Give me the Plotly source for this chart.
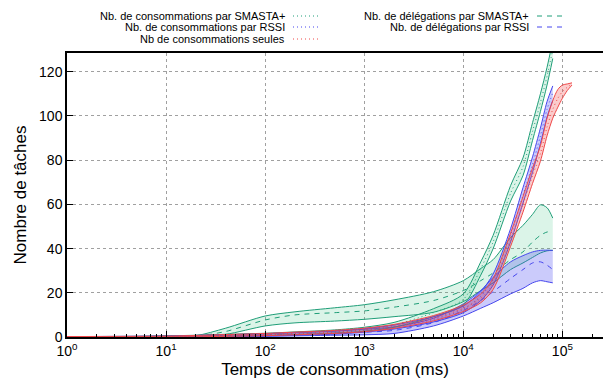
import plotly.graph_objects as go

# ---------------- data ----------------
time_ms = [1, 5, 10, 20, 40, 100, 200, 500, 1000, 2000, 5000, 10000,
           15000, 20000, 30000, 40000, 50000, 60000, 70000, 80000]
time_ms_red = time_ms + [90000, 100000, 112000, 125000]

# Nb. de consommations par SMASTA+
cons_smasta_mean = [0, 0.1, 0.3, 0.5, 0.8, 1.2, 1.7, 2.5, 3.5, 5.5, 11, 17, 31, 43, 65, 77, 93, 106, 118, 130]
cons_smasta_lo   = [0, 0.0, 0.1, 0.2, 0.4, 0.7, 1.1, 1.8, 2.6, 4.4, 9.2, 14.5, 28, 40, 61.5, 73, 89, 102, 114, 126]
cons_smasta_hi   = [0.2, 0.3, 0.5, 0.8, 1.2, 1.7, 2.3, 3.2, 4.4, 6.6, 12.8, 19.5, 34, 46, 68.5, 81, 97, 110, 122, 134]

# Nb. de consommations par RSSI
cons_rssi_mean = [0, 0.1, 0.2, 0.4, 0.6, 1.0, 1.4, 2.0, 3.0, 4.5, 8, 12.5, 18.5, 26, 46, 64, 78, 91, 103, 110.5]
cons_rssi_lo   = [0, 0.0, 0.0, 0.1, 0.2, 0.5, 0.8, 1.3, 2.2, 3.6, 6.8, 11, 16.5, 23.5, 43, 60.5, 74.5, 87.5, 99.5, 107]
cons_rssi_hi   = [0.2, 0.3, 0.4, 0.7, 1.0, 1.5, 2.0, 2.7, 3.8, 5.4, 9.2, 14, 20.5, 28.5, 49, 67.5, 81.5, 94.5, 106.5, 113.6]

# Nb de consommations seules
cons_seules_mean = [0, 0.1, 0.2, 0.4, 0.7, 1.1, 1.6, 2.3, 3.2, 4.8, 8.5, 13, 17.5, 24, 44, 60, 73, 83, 95, 103, 108, 111, 113, 114.5]
cons_seules_lo   = [0, 0.0, 0.0, 0.1, 0.3, 0.6, 1.0, 1.6, 2.4, 3.9, 7.3, 11.5, 15.5, 21.5, 41, 56.5, 69.5, 79.5, 91, 99, 104, 108, 111.5, 114]
cons_seules_hi   = [0.2, 0.3, 0.4, 0.7, 1.1, 1.6, 2.2, 3.0, 4.0, 5.7, 9.7, 14.5, 19.5, 26.5, 47, 63.5, 76.5, 86.5, 99, 107, 112, 114, 114.5, 115]

# Nb. de délégations par SMASTA+
deleg_smasta_mean = [0, 0.05, 0.1, 0.4, 2.5, 7.7, 10, 11, 11.8, 13.5, 16.5, 21, 25.5, 29, 35, 38.5, 43, 46, 47.5, 47.7]
deleg_smasta_lo   = [0, 0.0, 0.0, 0.2, 1.2, 5.0, 6.4, 7.2, 8.0, 9.2, 11.2, 16, 21, 24.5, 30.5, 33.5, 36, 38, 39, 39.2]
deleg_smasta_hi   = [0, 0.1, 0.2, 0.6, 4.0, 9.5, 11.4, 13.2, 14.6, 16.8, 20.5, 25.5, 31, 35, 45, 50.5, 55.5, 59.8, 58.5, 53.8]

# Nb. de délégations par RSSI
deleg_rssi_mean = [0, 0.1, 0.2, 0.4, 0.6, 0.9, 1.2, 1.7, 2.2, 3.0, 6.5, 12, 16.5, 20.5, 26.5, 30.5, 33.5, 34, 32.5, 30.5]
deleg_rssi_lo   = [0, 0.0, 0.0, 0.1, 0.2, 0.3, 0.5, 0.8, 1.0, 1.6, 5.0, 9.5, 13, 15.5, 19.5, 22, 24.5, 25.5, 25, 24.5]
deleg_rssi_hi   = [0.2, 0.3, 0.5, 0.7, 1.0, 1.5, 2.0, 2.7, 3.5, 4.6, 8.5, 15, 21, 27, 34, 36.8, 38.5, 39.2, 39.3, 39.2]

# tick labels
x_tickvals = [1, 10, 100, 1000, 10000, 100000]
x_ticktext = ["10<sup>0</sup>", "10<sup>1</sup>", "10<sup>2</sup>", "10<sup>3</sup>", "10<sup>4</sup>", "10<sup>5</sup>"]
y_tickvals = [0, 20, 40, 60, 80, 100, 120]

legend_labels = ["Nb. de consommations par SMASTA+", "Nb. de consommations par RSSI",
                 "Nb de consommations seules", "Nb. de délégations par SMASTA+",
                 "Nb. de délégations par RSSI"]

# ---------------- style ----------------
GREEN = "#1f9e78"
BLUE = "#4646ee"
RED = "#f04848"
GREEN_FILL = "rgba(40,190,120,0.17)"
BLUE_FILL = "rgba(70,70,240,0.28)"
RED_FILL = "rgba(240,72,72,0.28)"

fig = go.Figure()

def band(x, lo, hi, mean, color, fill, dash):
    fig.add_trace(go.Scatter(x=x, y=lo, mode="lines", line=dict(color=color, width=1, shape="spline", smoothing=0.8),
                             showlegend=False, hoverinfo="skip"))
    fig.add_trace(go.Scatter(x=x, y=hi, mode="lines", fill="tonexty", fillcolor=fill,
                             line=dict(color=color, width=1, shape="spline", smoothing=0.8),
                             showlegend=False, hoverinfo="skip"))
    fig.add_trace(go.Scatter(x=x, y=mean, mode="lines",
                             line=dict(color=color, width=1, dash=dash, shape="spline", smoothing=0.8),
                             showlegend=False))

band(time_ms, deleg_smasta_lo, deleg_smasta_hi, deleg_smasta_mean, GREEN, GREEN_FILL, "5px,5px")
band(time_ms, deleg_rssi_lo, deleg_rssi_hi, deleg_rssi_mean, BLUE, BLUE_FILL, "5px,5px")
band(time_ms, cons_smasta_lo, cons_smasta_hi, cons_smasta_mean, GREEN, GREEN_FILL, "1px,3px")
band(time_ms, cons_rssi_lo, cons_rssi_hi, cons_rssi_mean, BLUE, BLUE_FILL, "1px,3px")
band(time_ms_red, cons_seules_lo, cons_seules_hi, cons_seules_mean, RED, RED_FILL, "1px,3px")

FONT = "Liberation Sans, Arial, Helvetica, sans-serif"

# manual gnuplot-like legend (text right-aligned, sample on the right)
legend_pos = [(287, 16), (287, 27), (287, 39), (531, 16), (531, 27)]
legend_style = [(GREEN, "1px,3px"), (BLUE, "1px,3px"), (RED, "1px,3px"), (GREEN, "5px,5px"), (BLUE, "5px,5px")]
W, H = 603, 385
ML, MT, MB, MR = 67, 53, 48, 0
pw, ph = W - ML - MR, H - MT - MB
annotations = []
shapes = []
for lab, (px, py), (col, dsh) in zip(legend_labels, legend_pos, legend_style):
    annotations.append(dict(text=lab, xref="paper", yref="paper",
                            x=(px - ML) / pw, y=(H - MB - py) / ph,
                            xanchor="right", yanchor="middle", showarrow=False,
                            font=dict(size=11, color="black", family=FONT)))
    shapes.append(dict(type="line", xref="paper", yref="paper",
                       x0=(px + 6 - ML) / pw, x1=(px + 34 - ML) / pw,
                       y0=(H - MB - py) / ph, y1=(H - MB - py) / ph,
                       line=dict(color=col, width=1, dash=dsh)))

fig.update_layout(
    width=W, height=H,
    margin=dict(l=ML, r=MR, t=MT, b=MB),
    plot_bgcolor="white", paper_bgcolor="white",
    showlegend=False,
    font=dict(family=FONT, size=14, color="black"),
    annotations=annotations, shapes=shapes,
    xaxis=dict(type="log", range=[0, 5.41], tickvals=x_tickvals, ticktext=x_ticktext,
               showgrid=True, gridcolor="#a0a0a0", griddash="dot", gridwidth=1,
               showline=True, linecolor="black", linewidth=1.5, mirror=True,
               ticks="inside", ticklen=6, tickcolor="black",
               minor=dict(ticks="inside", ticklen=3, tickcolor="black", dtick="D1", showgrid=False),
               zeroline=False,
               title=dict(text="Temps de consommation (ms)", font=dict(size=17), standoff=6),
               tickfont=dict(size=14)),
    yaxis=dict(range=[0, 128.5], tickvals=y_tickvals,
               showgrid=True, gridcolor="#a0a0a0", griddash="dot", gridwidth=1,
               showline=True, linecolor="black", linewidth=1.5,
               ticks="inside", ticklen=6, tickcolor="black", zeroline=False,
               title=dict(text="Nombre de tâches", font=dict(size=17), standoff=8),
               tickfont=dict(size=14)),
)

fig.write_html("out.html")
